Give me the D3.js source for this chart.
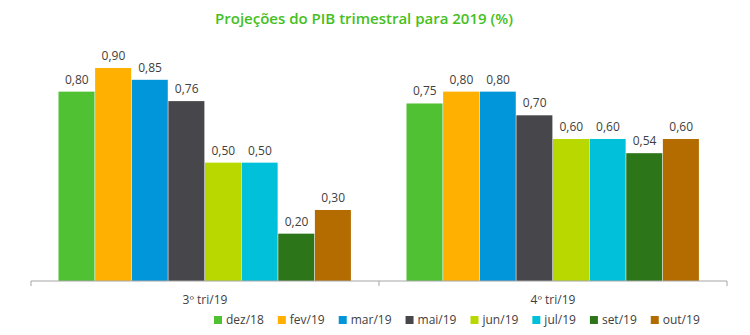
<!DOCTYPE html>
<html>
<head>
<meta charset="utf-8">
<script src="https://cdn.jsdelivr.net/npm/d3@7"></script>
<style>
  body { margin: 0; background: #fff; }
  text { font-family: "Open Sans", "Noto Sans", sans-serif; }
</style>
</head>
<body>
<div id="chart"></div>
<script>
const quarters = ["3º tri/19", "4º tri/19"];
const seriesNames = ["dez/18", "fev/19", "mar/19", "mai/19", "jun/19", "jul/19", "set/19", "out/19"];
const q3Values = [0.80, 0.90, 0.85, 0.76, 0.50, 0.50, 0.20, 0.30];
const q4Values = [0.75, 0.80, 0.80, 0.70, 0.60, 0.60, 0.54, 0.60];
const colors = ["#50c132", "#ffb000", "#0096d9", "#47474b", "#b9d800", "#00c0da", "#2d7519", "#b46c00"];

const width = 750, height = 335;
const baseY = 281;

const data = quarters.map((q, i) => ({
  quarter: q,
  values: (i === 0 ? q3Values : q4Values).map((v, j) => ({ key: seriesNames[j], value: v, color: colors[j] }))
}));

const svg = d3.select("#chart").append("svg")
  .attr("width", width)
  .attr("height", height);

// Title
svg.append("text")
  .attr("x", 364)
  .attr("y", 24)
  .attr("text-anchor", "middle")
  .style("font-size", "15px")
  .style("font-weight", "600")
  .style("fill", "#45c01e")
  .text("Projeções do PIB trimestral para 2019 (%)");

// Scales
const x0 = d3.scaleBand()
  .domain(quarters)
  .range([31, 727])
  .paddingInner(0)
  .paddingOuter(0);

const groupPad = 27.5;
const x1 = d3.scaleBand()
  .domain(seriesNames)
  .range([groupPad, x0.bandwidth() - groupPad])
  .padding(0);

const y = d3.scaleLinear()
  .domain([0, 1])
  .range([baseY, baseY - 236.7]);

// Bars
const groups = svg.selectAll(".group")
  .data(data)
  .enter()
  .append("g")
  .attr("class", "group")
  .attr("transform", d => `translate(${x0(d.quarter)},0)`);

groups.selectAll("rect")
  .data(d => d.values)
  .enter()
  .append("rect")
  .attr("x", d => x1(d.key))
  .attr("y", d => y(d.value))
  .attr("width", x1.bandwidth() - 0.6)
  .attr("height", d => y(0) - y(d.value))
  .attr("fill", d => d.color);

// Value labels
groups.selectAll(".val")
  .data(d => d.values)
  .enter()
  .append("text")
  .attr("class", "val")
  .attr("x", d => x1(d.key) + x1.bandwidth() / 2)
  .attr("y", d => y(d.value) - 8)
  .attr("text-anchor", "middle")
  .style("font-size", "12px")
  .style("fill", "#404040")
  .text(d => d3.format(".2f")(d.value).replace(".", ","));

// X axis
const axis = svg.append("g")
  .attr("transform", `translate(0,${baseY})`);

axis.append("line")
  .attr("x1", x0.range()[0])
  .attr("x2", x0.range()[1])
  .attr("stroke", "#a6a6a6")
  .attr("stroke-width", 1);

const tickXs = [x0(quarters[0]), x0(quarters[1]), x0.range()[1]];
axis.selectAll(".tick")
  .data(tickXs)
  .enter()
  .append("line")
  .attr("x1", d => d)
  .attr("x2", d => d)
  .attr("y1", 0)
  .attr("y2", 5)
  .attr("stroke", "#a6a6a6");

axis.selectAll(".cat")
  .data(quarters)
  .enter()
  .append("text")
  .attr("x", d => x0(d) + x0.bandwidth() / 2)
  .attr("y", 23)
  .attr("text-anchor", "middle")
  .style("font-size", "12px")
  .style("fill", "#404040")
  .text(d => d);

// Legend
const legend = svg.append("g")
  .attr("transform", "translate(214,324)");

let lx = 0;
seriesNames.forEach((name, i) => {
  const item = legend.append("g")
    .attr("transform", `translate(${lx},0)`);
  item.append("rect")
    .attr("x", 0)
    .attr("y", -8)
    .attr("width", 8)
    .attr("height", 8)
    .attr("fill", colors[i]);
  const t = item.append("text")
    .attr("x", 12)
    .attr("y", 0)
    .style("font-size", "12px")
    .style("fill", "#404040")
    .text(name);
  lx += 12 + t.node().getComputedTextLength() + 14;
});
</script>
</body>
</html>
